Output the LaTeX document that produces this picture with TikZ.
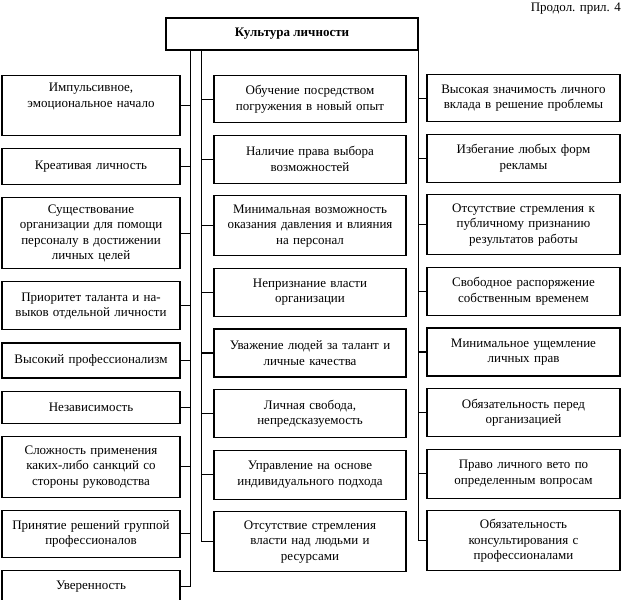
\documentclass[tikz,border=0pt]{standalone}
\usepackage{fontspec}
\setmainfont{Liberation Serif}
\usepackage{tikz}
\usetikzlibrary{positioning,calc}

\begin{document}
\begin{tikzpicture}
                    [x=1pt, y=1pt,
                    box/.style={rectangle,
                        draw=black, line width=1.1pt,
                        align=center, inner sep=2pt,
                        font=\fontsize{13}{15.5}\selectfont},
                    lbox/.style={box,
                        minimum width=178pt, text width=170pt},
                    mbox/.style={box,
                        minimum width=192pt, text width=184pt},
                    rbox/.style={box,
                        minimum width=193pt, text width=185pt},
                    bus/.style={line width=1.1pt},
                    node distance=12pt]

                    \useasboundingbox (0,0) rectangle (625,-600);

                    \node[box, minimum width=252pt, minimum height=32pt,
                        font=\fontsize{13}{15.5}\selectfont\bfseries]
                        (top) at (292,-34) {Культура личности};
                    \node[anchor=north east, inner sep=0pt,
                        font=\fontsize{13}{15.5}\selectfont]
                        (note) at (621,-3) {Продол. прил. 4};

                    % left column
                    \node[lbox, minimum height=60pt, anchor=north]
                        (l1) at (91,-75) {Импульсивное,\\ эмоциональное начало\\ \strut};
                    \node[lbox, minimum height=36pt, below=of l1]
                        (l2) {Креативая личность};
                    \node[lbox, minimum height=71pt, below=of l2]
                        (l3) {Существование\\ организации для помощи\\ персоналу в достижении\\ личных целей};
                    \node[lbox, minimum height=48pt, below=of l3]
                        (l4) {Приоритет таланта и на-\\ выков отдельной личности};
                    \node[lbox, minimum height=35pt, below=of l4]
                        (l5) {Высокий профессионализм};
                    \node[lbox, minimum height=32pt, below=of l5]
                        (l6) {Независимость};
                    \node[lbox, minimum height=61pt, below=of l6]
                        (l7) {Сложность применения\\ каких-либо санкций со\\ стороны руководства};
                    \node[lbox, minimum height=47pt, below=of l7]
                        (l8) {Принятие решений группой\\ профессионалов};
                    \node[lbox, minimum height=32pt, below=of l8]
                        (l9) {Уверенность};

                    % middle column
                    \node[mbox, minimum height=47pt, anchor=north]
                        (m1) at (310,-75) {Обучение посредством\\ погружения в новый опыт};
                    \node[mbox, minimum height=48pt, below=11.5pt of m1]
                        (m2) {Наличие права выбора\\ возможностей};
                    \node[mbox, minimum height=60pt, below=11.5pt of m2]
                        (m3) {Минимальная возможность\\ оказания давления и влияния\\ на персонал};
                    \node[mbox, minimum height=48pt, below=11.5pt of m3]
                        (m4) {Непризнание власти\\ организации};
                    \node[mbox, minimum height=48pt, below=11.5pt of m4]
                        (m5) {Уважение людей за талант и\\ личные качества};
                    \node[mbox, minimum height=48pt, below=11.5pt of m5]
                        (m6) {Личная свобода,\\ непредсказуемость};
                    \node[mbox, minimum height=49pt, below=11.5pt of m6]
                        (m7) {Управление на основе\\ индивидуального подхода};
                    \node[mbox, minimum height=60pt, below=11.5pt of m7]
                        (m8) {Отсутствие стремления\\ власти над людьми и\\ ресурсами};

                    % right column
                    \node[rbox, minimum height=47pt, anchor=north]
                        (r1) at (523.5,-74) {Высокая значимость личного\\ вклада в решение проблемы};
                    \node[rbox, minimum height=48pt, below=11.5pt of r1]
                        (r2) {Избегание любых форм\\ рекламы};
                    \node[rbox, minimum height=60pt, below=11.5pt of r2]
                        (r3) {Отсутствие стремления к\\ публичному признанию\\ результатов работы};
                    \node[rbox, minimum height=48pt, below=11.5pt of r3]
                        (r4) {Свободное распоряжение\\ собственным временем};
                    \node[rbox, minimum height=48pt, below=11.5pt of r4]
                        (r5) {Минимальное ущемление\\ личных прав};
                    \node[rbox, minimum height=48pt, below=11.5pt of r5]
                        (r6) {Обязательность перед\\ организацией};
                    \node[rbox, minimum height=49pt, below=11.5pt of r6]
                        (r7) {Право личного вето по\\ определенным вопросам};
                    \node[rbox, minimum height=60pt, below=11.5pt of r7]
                        (r8) {Обязательность\\ консультирования с\\ профессионалами};

                    % buses
                    \coordinate (lbus) at ($(top.south west)+(25,0)$);
                    \coordinate (mbus) at ($(top.south west)+(36,0)$);
                    \coordinate (rbus) at (top.south east);

                    \draw[bus] (lbus) |- (l9.east);
                    \foreach \i in {1,...,8}
                        \draw[bus] (l\i.east) -- (l\i.east -| lbus);
                    \draw[bus] (mbus) |- (m8.west);
                    \foreach \i in {1,...,7}
                        \draw[bus] (m\i.west) -- (m\i.west -| mbus);
                    \draw[bus] (rbus) |- (r8.west);
                    \foreach \i in {1,...,7}
                        \draw[bus] (r\i.west) -- (r\i.west -| rbus);
                \end{tikzpicture}
\end{document}
